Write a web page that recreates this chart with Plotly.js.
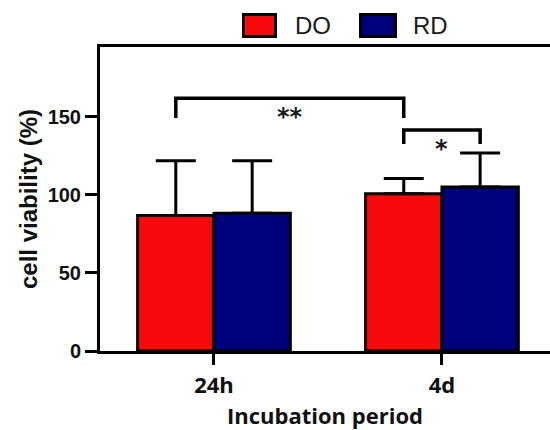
<!DOCTYPE html>
<html>
<head>
<meta charset="utf-8">
<script src="https://cdn.plot.ly/plotly-3.0.1.min.js"></script>
<style>
  html, body { margin: 0; padding: 0; background: #ffffff; }
  #chart { width: 550px; height: 430px; }
</style>
</head>
<body>
<div id="chart"></div>
<script>
// ---- data ----
const categories = ['24h', '4d'];
const seriesNames = ['DO', 'RD'];
const doValues = [86.7, 100.6];
const rdValues = [88.2, 104.9];
const doErrors = [35.0, 9.7];
const rdErrors = [33.6, 21.8];
const yTickValues = [0, 50, 100, 150];

// significance brackets: from/to are [category index, series index]
const sigLabels = ['**', '*'];
const sigFrom = [[0, 0], [1, 0]];
const sigTo = [[1, 0], [1, 1]];
const sigTop = [161.7, 141.4];
const sigBottom = [149.0, 132.5];
const sigLabelY = [149.5, 129.5];

// ---- styling ----
const colors = ['#f70a0c', '#00007a'];
const bargap = 0.33;
const barWidth = (1 - bargap) / 2;
const lineW = 3;

function barCenter(ci, si) {
  return ci + (si - 0.5) * barWidth;
}

const valueSets = [doValues, rdValues];
const errorSets = [doErrors, rdErrors];

const traces = seriesNames.map((name, si) => ({
  type: 'bar',
  name: name,
  x: categories,
  y: valueSets[si],
  marker: { color: colors[si], line: { color: '#000000', width: lineW } },
  error_y: {
    type: 'data',
    symmetric: false,
    array: errorSets[si],
    arrayminus: categories.map(() => 0),
    color: '#000000',
    thickness: lineW,
    width: 20
  },
  showlegend: false,
  hoverinfo: 'x+y'
}));

const shapes = [];
const annotations = [];

// significance brackets
sigLabels.forEach((lab, i) => {
  const x0 = barCenter(sigFrom[i][0], sigFrom[i][1]);
  const x1 = barCenter(sigTo[i][0], sigTo[i][1]);
  const path = 'M ' + x0 + ',' + sigBottom[i] + ' L ' + x0 + ',' + sigTop[i] +
               ' L ' + x1 + ',' + sigTop[i] + ' L ' + x1 + ',' + sigBottom[i];
  shapes.push({
    type: 'path', xref: 'x', yref: 'y', path: path,
    line: { color: '#000000', width: 3.5 }
  });
  annotations.push({
    xref: 'x', yref: 'y', x: (x0 + x1) / 2, y: sigLabelY[i],
    text: lab, showarrow: false, xanchor: 'center', yanchor: 'middle',
    font: { family: 'DejaVu Sans', size: 24, color: '#1a1a1a', weight: 700 }
  });
});

// custom legend (large boxed swatches as in the reference)
const legendBoxes = [[243.5, 275.5], [360.5, 395.5]];
const legendText = [312.5, 430];
const plotL = 100, plotW = 450, plotT = 47, plotH = 304.5;
function px2paperX(px) { return (px - plotL) / plotW; }
function py2paperY(py) { return (plotT + plotH - py) / plotH; }
seriesNames.forEach((name, si) => {
  shapes.push({
    type: 'rect', xref: 'paper', yref: 'paper',
    x0: px2paperX(legendBoxes[si][0]), x1: px2paperX(legendBoxes[si][1]),
    y0: py2paperY(36.5), y1: py2paperY(14.5),
    fillcolor: colors[si], line: { color: '#000000', width: 3 }
  });
  annotations.push({
    xref: 'paper', yref: 'paper', x: px2paperX(legendText[si]), y: py2paperY(25.5),
    text: name, showarrow: false, xanchor: 'center', yanchor: 'middle',
    font: { family: 'Liberation Sans, Arial, sans-serif', size: 24, color: '#1a1a1a' }
  });
});

const layout = {
  width: 550,
  height: 430,
  margin: { l: plotL, r: 0, t: plotT, b: 430 - plotT - plotH, pad: 0 },
  paper_bgcolor: '#ffffff',
  plot_bgcolor: '#ffffff',
  barmode: 'group',
  bargap: bargap,
  bargroupgap: 0,
  showlegend: false,
  xaxis: {
    type: 'category',
    range: [-0.5, 1.474],
    showline: true, linecolor: '#000000', linewidth: lineW, mirror: true,
    ticks: 'outside', ticklen: 11, tickwidth: lineW, tickcolor: '#000000',
    ticklabelstandoff: 2,
    showgrid: false, zeroline: false,
    tickfont: { family: 'Open Sans, sans-serif', size: 22, color: '#111111', weight: 700 },
    title: {
      text: 'Incubation period',
      standoff: 27,
      font: { family: 'Open Sans, sans-serif', size: 22, color: '#111111', weight: 700 }
    },
    automargin: false,
    fixedrange: true
  },
  yaxis: {
    range: [0, 194.5],
    tickvals: yTickValues,
    showline: true, linecolor: '#000000', linewidth: lineW, mirror: false,
    ticks: 'outside', ticklen: 12, tickwidth: lineW, tickcolor: '#000000',
    showgrid: false, zeroline: false,
    tickfont: { family: 'Liberation Sans, Arial, sans-serif', size: 20, color: '#111111', weight: 700 },
    title: {
      text: 'cell viability (%)',
      standoff: 4,
      font: { family: 'Liberation Sans, Arial, sans-serif', size: 24, color: '#111111', weight: 700 }
    },
    automargin: false,
    fixedrange: true
  },
  shapes: shapes,
  annotations: annotations
};

Plotly.newPlot('chart', traces, layout, { displayModeBar: false, staticPlot: true });
</script>
</body>
</html>
